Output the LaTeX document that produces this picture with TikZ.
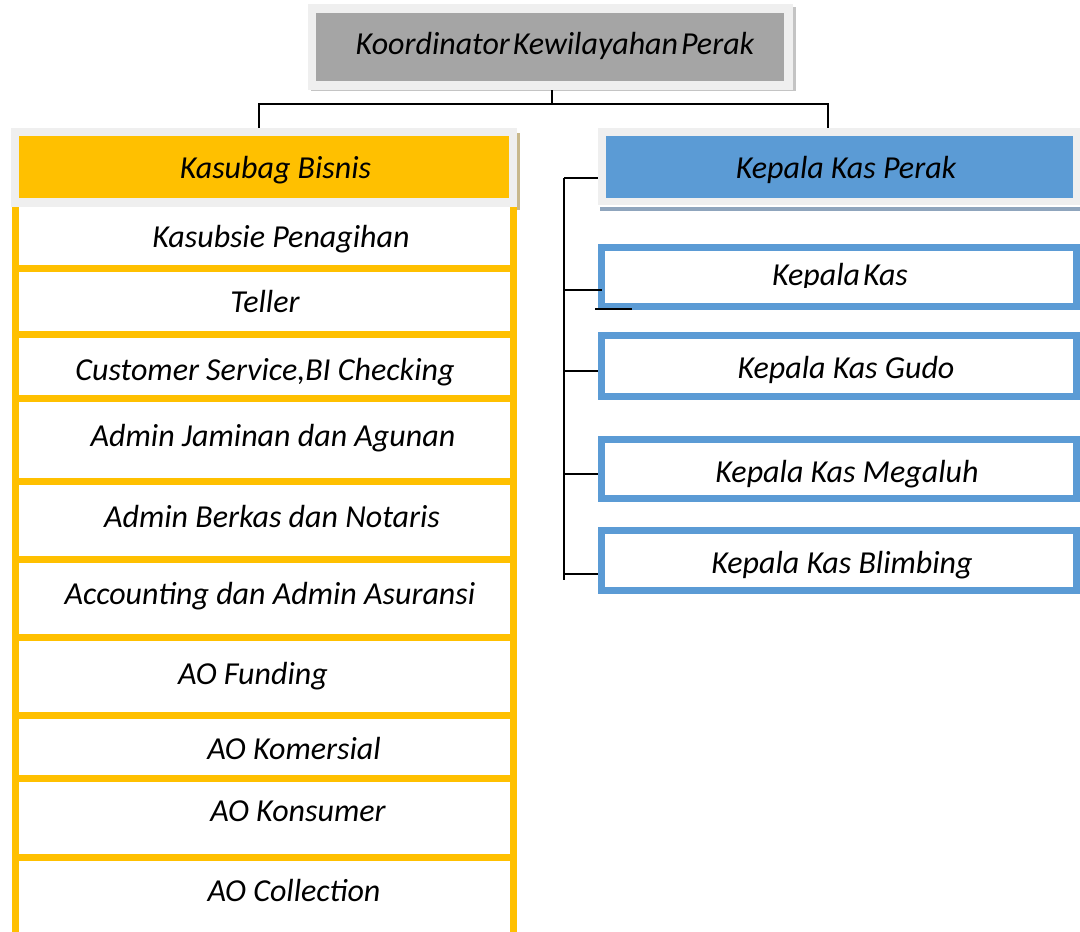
\documentclass[tikz,border=0pt]{standalone}
\usepackage{fontspec}
\setmainfont{Carlito}
\definecolor{ylw}{HTML}{FFC000}
\definecolor{blu}{HTML}{5B9BD5}
\definecolor{gry}{HTML}{A5A5A5}
\definecolor{frm}{HTML}{EFEFEF}
\definecolor{shd}{HTML}{C4C4C4}
\definecolor{tan}{HTML}{C8B88C}
\definecolor{bshd}{HTML}{8FA5BD}
\newcommand{\tightsp}{\hspace{3pt}}
\begin{document}
\begin{tikzpicture}[x=1pt,y=-1pt,
  lbl/.style={font=\fontsize{32}{38}\selectfont\itshape, anchor=base, inner sep=0pt},
  conn/.style={line width=2pt, black},
  rowbox/.style={draw=ylw, line width=7pt, rectangle, inner sep=0pt, minimum width=498pt},
  bluebox/.style={draw=blu, line width=7pt, fill=white, rectangle, inner sep=0pt, minimum width=475pt},
  framebox/.style={fill=frm, rectangle, inner sep=0pt},
  fillbox/.style={rectangle, inner sep=0pt},
]
\useasboundingbox (0,0) rectangle (1080,932);

% ---- top box
\fill[shd] (311,7) rectangle (796,91);
\node[framebox, minimum width=485pt, minimum height=86pt] (topf) at (550.5,47) {};
\node[fillbox, fill=gry, minimum width=468pt, minimum height=68pt] (top) at (550,47) {};
\node[lbl] (toplbl) at (555,54) {Koordinator\tightsp Kewilayahan\tightsp Perak};

% ---- connectors from top
\coordinate (busC) at (552,104);
\coordinate (busL) at (259,104);
\coordinate (busR) at (828,104);

% ---- left column rows
\node[rowbox, minimum height=68pt] (r1) at (264,234) {};
\node[rowbox, minimum height=66pt] (r2) at (264,301) {};
\node[rowbox, minimum height=64pt] (r3) at (264,366) {};
\node[rowbox, minimum height=83pt] (r4) at (264,439.5) {};
\node[rowbox, minimum height=78pt] (r5) at (264,520) {};
\node[rowbox, minimum height=78pt] (r6) at (264,598) {};
\node[rowbox, minimum height=78pt] (r7) at (264,676) {};
\node[rowbox, minimum height=63pt] (r8) at (264,746.5) {};
\node[rowbox, minimum height=79pt] (r9) at (264,817.5) {};
\node[rowbox, minimum height=88pt] (r10) at (264,901) {};

\node[lbl] (t1) at (281,247) {Kasubsie Penagihan};
\node[lbl] (t2) at (265,312) {Teller};
\node[lbl] (t3) at (265,380) {Customer Service,BI Checking};
\node[lbl] (t4) at (273,446) {Admin Jaminan dan Agunan};
\node[lbl] (t5) at (272,527) {Admin Berkas dan Notaris};
\node[lbl] (t6) at (270,604) {Accounting dan Admin Asuransi};
\node[lbl] (t7) at (253,684) {AO Funding};
\node[lbl] (t8) at (294,759) {AO Komersial};
\node[lbl] (t9) at (298,821) {AO Konsumer};
\node[lbl] (t10) at (294,901) {AO Collection};

% ---- Kasubag Bisnis
\fill[tan] (517,133) rectangle (520,210);
\node[framebox, minimum width=506pt, minimum height=79pt] (kbf) at (264,167.5) {};
\node[fillbox, fill=ylw, minimum width=490pt, minimum height=62pt] (kb) at (264,167) {};
\node[lbl] (kblbl) at (275.5,178) {Kasubag Bisnis};

% ---- Kepala Kas Perak
\fill[bshd] (600,207) rectangle (1085,211);
\node[framebox, minimum width=487pt, minimum height=77pt] (kpf) at (841.5,166.5) {};
\node[fillbox, fill=blu, minimum width=467pt, minimum height=62pt] (kp) at (839.5,167) {};
\node[lbl] (kplbl) at (846,178) {Kepala Kas Perak};

% ---- top connectors
\draw[conn] (busC |- topf.south) -- (busC);
\draw[conn] (busL |- kbf.north) -- (busL) -- (busR) -- (busR |- kpf.north);

% ---- right boxes
\node[bluebox, minimum height=59pt] (kk) at (839,277) {};
\node[bluebox, minimum height=61pt] (gudo) at (839,366) {};
\node[bluebox, minimum height=59pt] (mega) at (839,469) {};
\node[bluebox, minimum height=60pt] (blim) at (839,560.5) {};

\begin{scope}
\clip (700,250) rectangle (1000,287);
\node[lbl] (kklbl) at (840,285) {Kepala\tightsp Kas};
\end{scope}
\node[lbl] (gudolbl) at (846,378) {Kepala Kas Gudo};
\node[lbl] (megalbl) at (847,482) {Kepala Kas Megaluh};
\node[lbl] (blimlbl) at (842,573) {Kepala Kas Blimbing};

% ---- right rail
\coordinate (rtop) at (564,178);
\coordinate (rkk) at (564,290);
\coordinate (rgudo) at (564,371);
\coordinate (rmega) at (564,474);
\coordinate (rblim) at (564,574);
\coordinate (rbot) at (564,580);
\draw[conn] (rtop) -- (rbot);
\draw[conn] (rtop) -- (rtop -| kpf.west);
\draw[conn] (rkk) -- ([xshift=4pt]rkk -| kk.west);
\draw[conn] (rgudo) -- (rgudo -| gudo.west);
\draw[conn] (rmega) -- (rmega -| mega.west);
\draw[conn] (rblim) -- (rblim -| blim.west);
\coordinate (s1) at (595,309);
\coordinate (s2) at (632,309);
\draw[conn] (s1) -- (s2);
\end{tikzpicture}
\end{document}
